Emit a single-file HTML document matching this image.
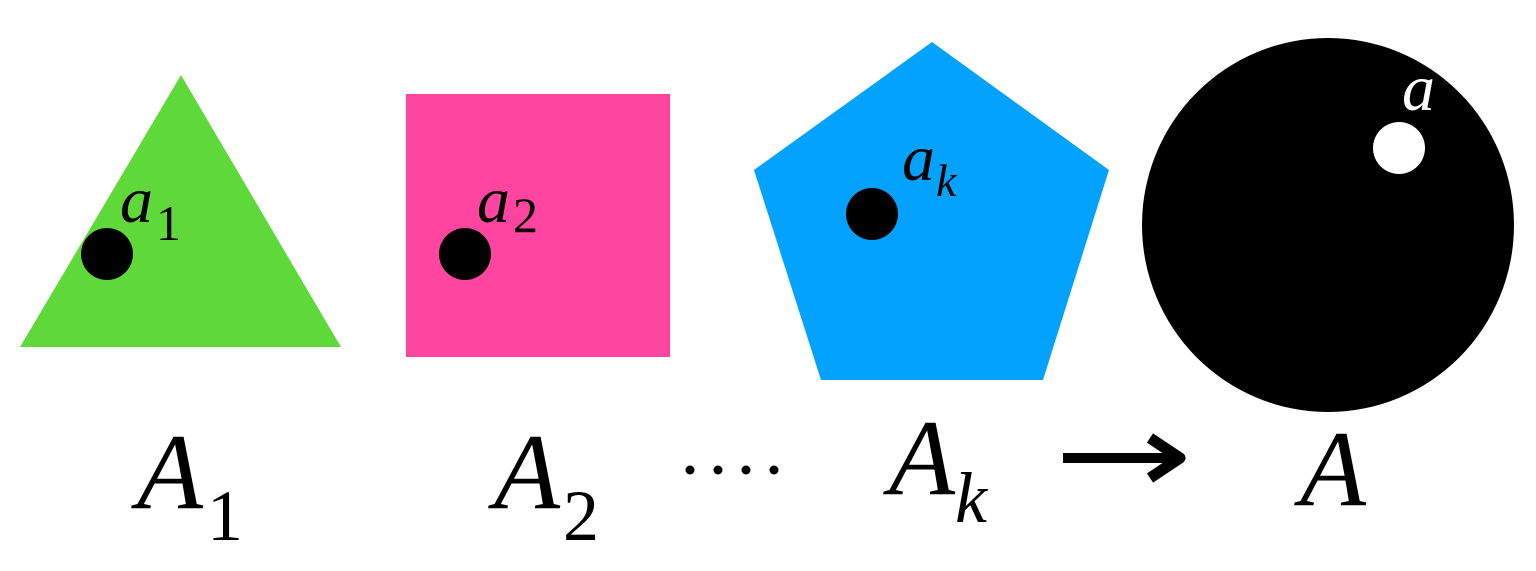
<!DOCTYPE html>
<html><head><meta charset="utf-8"><style>html,body{margin:0;padding:0;background:#fff;width:1536px;height:571px;overflow:hidden}text{font-family:"Liberation Serif",serif;font-style:italic}</style></head>
<body>
<svg width="1536" height="571" viewBox="0 0 1536 571" xmlns="http://www.w3.org/2000/svg">
<polygon points="181,75 341,347 20,347" fill="#5FD93A"/>
<rect x="406" y="94" width="264" height="263" fill="#FF45A0"/>
<polygon points="932,42 1109,170 1043,380 821,380 754,170" fill="#03A2FF"/>
<ellipse cx="1328" cy="225" rx="186" ry="187" fill="#000"/>
<circle cx="107" cy="254" r="26" fill="#000"/>
<circle cx="465" cy="254" r="26" fill="#000"/>
<circle cx="872" cy="214" r="26" fill="#000"/>
<circle cx="1399" cy="148" r="26" fill="#fff"/>
<text x="120" y="222" font-size="66">a</text><text x="156" y="240" font-size="50" style="font-style:normal">1</text>
<text x="477" y="222" font-size="66">a</text><text x="513" y="232" font-size="50" style="font-style:normal">2</text>
<text x="902" y="180" font-size="66">a</text><text x="936" y="196" font-size="46">k</text>
<text x="1402" y="110" font-size="66" fill="#fff">a</text>
<text x="137" y="508" font-size="108">A</text><text x="207" y="540" font-size="72" style="font-style:normal">1</text>
<text x="494" y="508" font-size="108">A</text><text x="563" y="540" font-size="72" style="font-style:normal">2</text>
<text x="889" y="494" font-size="108">A</text><text x="955" y="522" font-size="72">k</text>
<text x="1300" y="505" font-size="108">A</text>
<g fill="#000"><circle cx="690" cy="470" r="4.5"/><circle cx="718" cy="470" r="4.5"/><circle cx="746" cy="470" r="4.5"/><circle cx="774" cy="470" r="4.5"/></g>
<line x1="1063" y1="458" x2="1178" y2="458" stroke="#000" stroke-width="10"/>
<polyline points="1150,438 1180,458 1150,478" fill="none" stroke="#000" stroke-width="11" stroke-linejoin="round"/>
</svg>
</body></html>
